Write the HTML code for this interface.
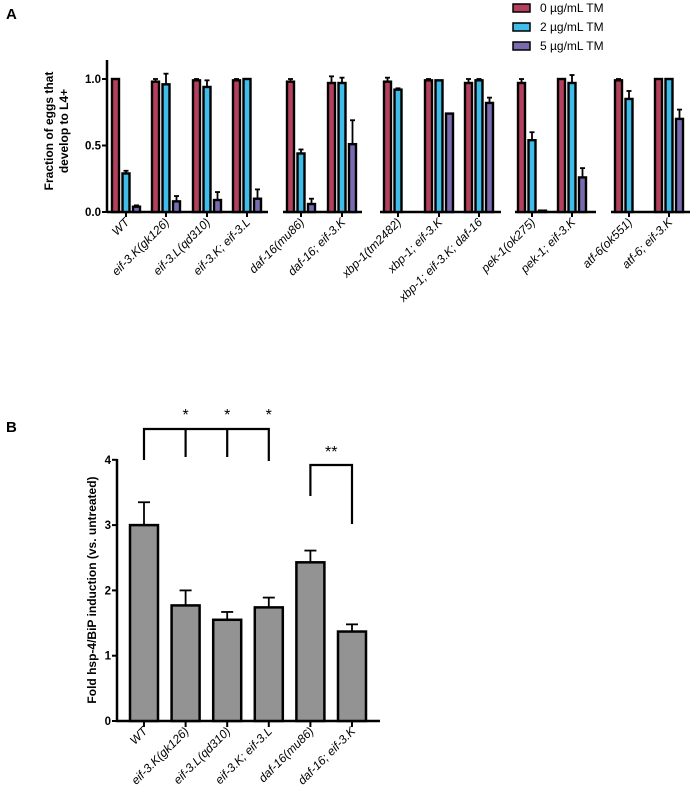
<!DOCTYPE html>
<html><head><meta charset="utf-8"><style>
body{margin:0;background:#fff}
svg{display:block;font-family:"Liberation Sans",Arial,sans-serif}
</style></head><body>
<svg id="s" width="692" height="793" viewBox="0 0 692 793">
<text x="6" y="19" font-size="15" font-weight="bold">A</text>
<text x="6" y="432" font-size="15" font-weight="bold">B</text>
<g>
<rect x="513" y="4" width="17" height="8" fill="#b5405e" stroke="#000" stroke-width="1.5"/>
<text x="540" y="12" font-size="12">0 µg/mL TM</text>
<rect x="513" y="23" width="17" height="8" fill="#3fbde8" stroke="#000" stroke-width="1.5"/>
<text x="540" y="31" font-size="12">2 µg/mL TM</text>
<rect x="513" y="42" width="17" height="8" fill="#7a6aaf" stroke="#000" stroke-width="1.5"/>
<text x="540" y="50" font-size="12">5 µg/mL TM</text>
</g>
<text transform="translate(53,131) rotate(-90)" text-anchor="middle" font-size="12" font-weight="bold"><tspan x="0" dy="0">Fraction of eggs that</tspan><tspan x="0" dy="15">develop to L4+</tspan></text>
<text transform="translate(96,590) rotate(-90)" text-anchor="middle" font-size="12" font-weight="bold">Fold hsp-4/BiP induction (vs. untreated)</text>
<g id="ga"></g><g id="gb"></g>
</svg>
<script>
const catsA=["WT","eif-3.K(gk126)","eif-3.L(qd310)","eif-3.K; eif-3.L","daf-16(mu86)","daf-16; eif-3.K","xbp-1(tm2482)","xbp-1; eif-3.K","xbp-1; eif-3.K; daf-16","pek-1(ok275)","pek-1; eif-3.K","atf-6(ok551)","atf-6; eif-3.K"];
const tm0=[1.0,0.98,0.99,0.99,0.98,0.97,0.98,0.99,0.97,0.97,1.0,0.99,1.0];
const tm0err=[0,0.02,0.01,0.01,0.02,0.05,0.03,0.01,0.03,0.03,0,0.01,0];
const tm2=[0.29,0.96,0.94,1.0,0.44,0.97,0.92,0.99,0.99,0.54,0.97,0.85,1.0];
const tm2err=[0.02,0.08,0.05,0,0.03,0.04,0.01,0,0.01,0.06,0.06,0.06,0];
const tm5=[0.04,0.08,0.09,0.10,0.06,0.51,0,0.74,0.82,0.01,0.26,0,0.70];
const tm5err=[0.01,0.04,0.06,0.07,0.04,0.18,0,0,0.04,0,0.07,0,0.07];
const ticksA=["0.0","0.5","1.0"];
const catsB=["WT","eif-3.K(gk126)","eif-3.L(qd310)","eif-3.K; eif-3.L","daf-16(mu86)","daf-16; eif-3.K"];
const foldB=[3.0,1.77,1.55,1.74,2.43,1.37];
const foldErr=[0.35,0.23,0.12,0.15,0.18,0.11];
const ticksB=["0","1","2","3","4"];
const NS="http://www.w3.org/2000/svg";
function mk(p,t,a){const e=document.createElementNS(NS,t);for(const k in a)e.setAttribute(k,a[k]);p.appendChild(e);return e;}
// Panel A
const ga=document.getElementById('ga');
const yA=v=>212-v*133;
const groupX=[112,152,193,233,287,328,384,425,465,518,558,615,655];
const segs=[[107,268],[283,362],[380,501],[515,596],[611,690]];
segs.forEach((s,i)=>{const l=mk(ga,'line',{x1:s[0],x2:s[1],y1:212,y2:212,stroke:'#000','stroke-width':2.5});

});
const ya=mk(ga,'line',{x1:107,x2:107,y1:60,y2:213,stroke:'#000','stroke-width':2.5});


ticksA.forEach(t=>{const v=parseFloat(t);mk(ga,'line',{x1:102,x2:107,y1:yA(v),y2:yA(v),stroke:'#000','stroke-width':2});
const tx=mk(ga,'text',{x:101,y:yA(v)+4,'text-anchor':'end','font-size':11.5,'font-weight':'bold'});tx.textContent=t;

});
const series=[[tm0,tm0err,'#b5405e',0],[tm2,tm2err,'#3fbde8',10.5],[tm5,tm5err,'#7a6aaf',21]];
catsA.forEach((c,i)=>{
 series.forEach(([vals,errs,col,off],si)=>{
  const x=groupX[i]+off,v=vals[i],e=errs[i];
  if(e>0){mk(ga,'line',{x1:x+3.5,x2:x+3.5,y1:yA(v),y2:yA(v+e),stroke:'#000','stroke-width':1.8});
  mk(ga,'line',{x1:x+1,x2:x+6,y1:yA(v+e),y2:yA(v+e),stroke:'#000','stroke-width':1.8});}
  if(v>0.005){const r=mk(ga,'rect',{x:x,y:yA(v),width:7,height:212-yA(v),fill:col,stroke:'#000','stroke-width':2.4});
  
  }
 });
 const cx=groupX[i]+14;
 mk(ga,'line',{x1:cx,x2:cx,y1:212,y2:217,stroke:'#000','stroke-width':2});
 const t=mk(ga,'text',{transform:`translate(${cx+4},${223}) rotate(-45)`,'text-anchor':'end','font-size':12,'font-style':'italic'});
 t.textContent=c;
 
 
});
// Panel B
const gb=document.getElementById('gb');
const yB=v=>721-v*65.3;
const bx=i=>130+i*41.6;
mk(gb,'line',{x1:117,x2:117,y1:459,y2:722,stroke:'#000','stroke-width':2.5});
mk(gb,'line',{x1:116,x2:380,y1:721,y2:721,stroke:'#000','stroke-width':2.5});
ticksB.forEach(t=>{const v=+t;mk(gb,'line',{x1:112,x2:117,y1:yB(v),y2:yB(v),stroke:'#000','stroke-width':2});
const tx=mk(gb,'text',{x:111,y:yB(v)+4,'text-anchor':'end','font-size':11.5,'font-weight':'bold'});tx.textContent=t;

});
catsB.forEach((c,i)=>{
 const x=bx(i),v=foldB[i],e=foldErr[i];
 mk(gb,'line',{x1:x+14,x2:x+14,y1:yB(v),y2:yB(v+e),stroke:'#000','stroke-width':1.8});
 mk(gb,'line',{x1:x+8,x2:x+20,y1:yB(v+e),y2:yB(v+e),stroke:'#000','stroke-width':1.8});
 const r=mk(gb,'rect',{x:x,y:yB(v),width:28,height:721-yB(v),fill:'#939393',stroke:'#000','stroke-width':2.5});
 
 
 mk(gb,'line',{x1:x+14,x2:x+14,y1:721,y2:727,stroke:'#000','stroke-width':2});
 const t=mk(gb,'text',{transform:`translate(${x+18},${732}) rotate(-45)`,'text-anchor':'end','font-size':12,'font-style':'italic'});
 t.textContent=c;
 
 
});
// brackets
const c=i=>bx(i)+14;
mk(gb,'path',{d:`M${c(0)},460 V429 H${c(3)} V461 M${c(1)},429 V457 M${c(2)},429 V457 M${c(4)},496 V465 H${c(5)} V524`,fill:'none',stroke:'#000','stroke-width':2.2});
[1,2,3].forEach(i=>{const s=mk(gb,'text',{x:c(i),y:420,'text-anchor':'middle','font-size':16});s.textContent='*';

});
const ss=mk(gb,'text',{x:(c(4)+c(5))/2,y:457,'text-anchor':'middle','font-size':16});ss.textContent='**';


</script>
</body></html>
